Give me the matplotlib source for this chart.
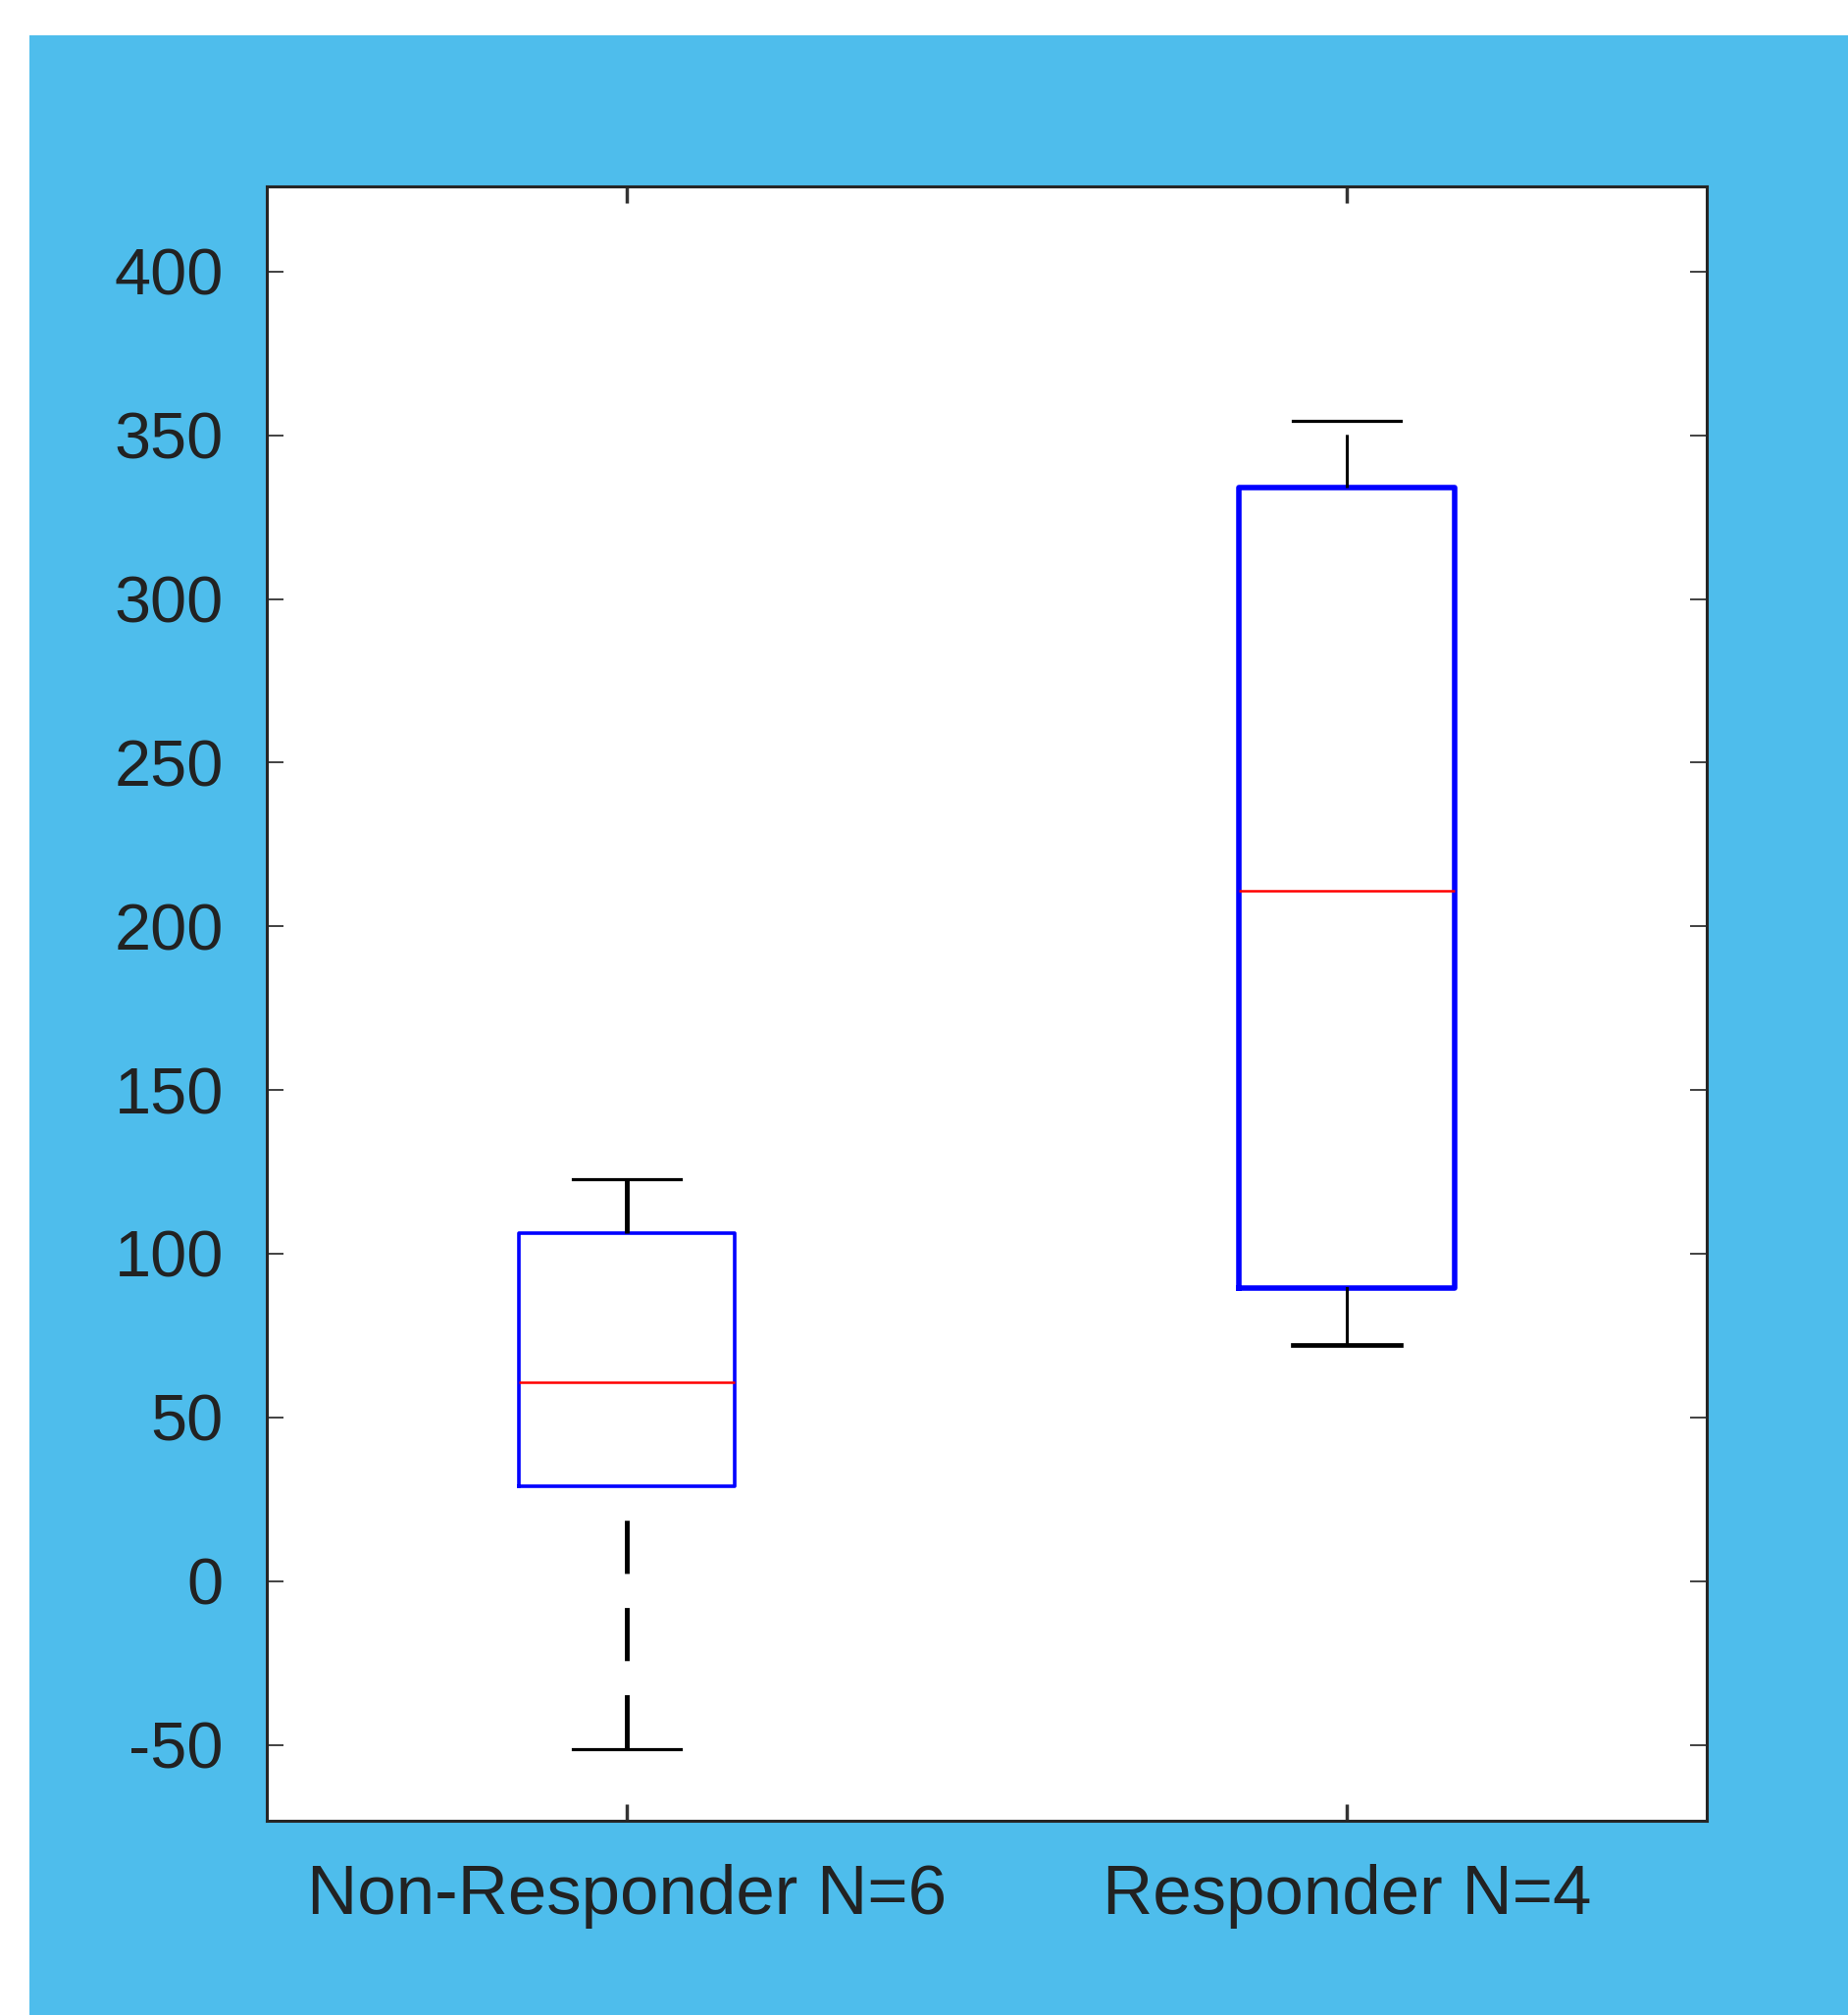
import numpy as np
import matplotlib
matplotlib.use("Agg")
import matplotlib.pyplot as plt
from matplotlib.patches import Rectangle

# box statistics
groups = ["Non-Responder N=6", "Responder N=4"]
whislo = [-51.3, 72.2]
q1 = [29.0, 89.6]
med = [60.7, 210.8]
q3 = [106.4, 334.1]
whishi = [122.9, 354.4]

yticks = [-50, 0, 50, 100, 150, 200, 250, 300, 350, 400]

plt.rcParams['font.family'] = ['Liberation Sans', 'DejaVu Sans']
plt.rcParams['lines.scale_dashes'] = False
plt.rcParams['axes.unicode_minus'] = False

fig = plt.figure(figsize=(18.84, 20.54), dpi=100, facecolor='white')

# blue panel behind the axes
fig.patches.append(Rectangle((30 / 1884, 0), 1 - 30 / 1884, (2054 - 36) / 2054,
                             transform=fig.transFigure, facecolor='#4EBDEC',
                             edgecolor='none', zorder=-10))

ax = fig.add_axes([0.1446, 0.0964, 0.779, 0.8109])
ax.set_facecolor('white')

stats = []
for i in range(len(groups)):
    stats.append(dict(label=groups[i], whislo=whislo[i], q1=q1[i], med=med[i],
                      q3=q3[i], whishi=whishi[i], fliers=[]))

bp = ax.bxp(stats, positions=[1, 2], widths=0.3, showfliers=False,
            boxprops=dict(color='#0000FF', linewidth=2.6),
            medianprops=dict(color='#FF0000', linewidth=1.8),
            whiskerprops=dict(color='black', linewidth=3.5),
            capprops=dict(color='black', linewidth=2.3))

# per-box tweaks to follow the picture
bp['boxes'][1].set_linewidth(4.0)
bp['whiskers'][0].set_linestyle((39, (39, 25)))   # box 1 lower, dashed
bp['whiskers'][1].set_linestyle((0, (40, 25)))
bp['whiskers'][2].set_linewidth(2.2)
bp['whiskers'][3].set_linewidth(2.2)
bp['whiskers'][3].set_linestyle((0, (39, 25)))
bp['caps'][2].set_linewidth(3.4)

ax.set_xlim(0.5, 2.5)
ax.set_ylim(-73.2, 425.9)
ax.set_yticks(yticks)
ax.set_xticks([1, 2])
ax.set_xticklabels(groups)

for s in ax.spines.values():
    s.set_linewidth(2.2)
    s.set_color('#262626')

ax.tick_params(axis='both', direction='in', length=12, colors='#333333',
               labelcolor='#222222', labelsize=48, top=True, right=True)
ax.tick_params(axis='y', width=1.3, pad=32)
ax.tick_params(axis='x', width=2.5, pad=32, labelsize=51)

plt.savefig("out.png", dpi=100, facecolor='white')
